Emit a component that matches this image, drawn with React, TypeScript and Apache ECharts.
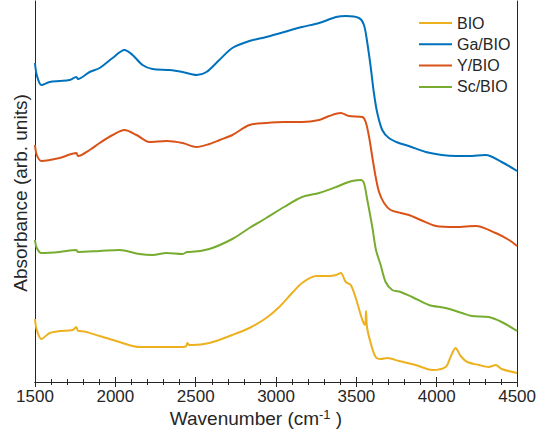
import React, { useEffect, useRef } from "react";
import * as echarts from "echarts";

// FTIR absorbance spectra, offset vertically (arbitrary units)
const seriesNames = ["BIO", "Ga/BIO", "Y/BIO", "Sc/BIO"];
const seriesColors = ["#EDB120", "#0072BD", "#D95319", "#77AC30"];
const xTicks = [1500, 2000, 2500, 3000, 3500, 4000, 4500];

const bioWn = [1500, 1511, 1540, 1591, 1653, 1734, 1757, 1768, 1778, 1902, 2026, 2150, 2318, 2418, 2442, 2448, 2461, 2479, 2585, 2728, 2834, 2939, 3020, 3100, 3162, 3249, 3330, 3374, 3403, 3434, 3465, 3496, 3537, 3554, 3560, 3566, 3589, 3620, 3651, 3692, 3765, 3868, 3972, 4055, 4086, 4117, 4149, 4190, 4262, 4324, 4367, 4404, 4500];
const bioAbs = [0.63, 0.52, 0.43, 0.49, 0.51, 0.52, 0.55, 0.51, 0.51, 0.46, 0.40, 0.35, 0.35, 0.35, 0.36, 0.39, 0.37, 0.37, 0.39, 0.47, 0.54, 0.64, 0.75, 0.89, 0.99, 1.06, 1.06, 1.07, 1.09, 1.00, 0.97, 0.84, 0.62, 0.57, 0.71, 0.55, 0.39, 0.25, 0.23, 0.24, 0.21, 0.17, 0.12, 0.15, 0.25, 0.34, 0.26, 0.20, 0.17, 0.15, 0.17, 0.13, 0.09];

const gaWn = [1500, 1511, 1540, 1591, 1653, 1715, 1757, 1768, 1840, 1902, 1983, 2057, 2107, 2169, 2231, 2337, 2418, 2505, 2567, 2647, 2728, 2834, 2939, 3050, 3162, 3268, 3374, 3436, 3516, 3547, 3568, 3589, 3609, 3630, 3661, 3702, 3764, 3826, 3932, 4032, 4120, 4199, 4305, 4404, 4500];
const gaAbs = [3.19, 3.07, 2.97, 3.00, 3.01, 3.02, 3.05, 3.03, 3.10, 3.14, 3.24, 3.32, 3.27, 3.17, 3.13, 3.12, 3.10, 3.07, 3.10, 3.22, 3.34, 3.41, 3.45, 3.50, 3.55, 3.59, 3.65, 3.66, 3.64, 3.57, 3.39, 3.15, 2.89, 2.69, 2.52, 2.44, 2.39, 2.36, 2.30, 2.27, 2.26, 2.26, 2.27, 2.20, 2.11];

const yWn = [1500, 1511, 1540, 1653, 1757, 1768, 1840, 1902, 1983, 2057, 2132, 2212, 2318, 2418, 2505, 2585, 2650, 2728, 2834, 2939, 3050, 3162, 3268, 3330, 3403, 3454, 3537, 3558, 3579, 3599, 3620, 3641, 3672, 3713, 3775, 3827, 3900, 3995, 4119, 4243, 4367, 4450, 4500];
const yAbs = [2.37, 2.27, 2.21, 2.24, 2.29, 2.26, 2.32, 2.39, 2.47, 2.52, 2.47, 2.40, 2.41, 2.39, 2.35, 2.38, 2.42, 2.47, 2.57, 2.59, 2.60, 2.60, 2.62, 2.66, 2.69, 2.66, 2.65, 2.60, 2.45, 2.25, 2.05, 1.90, 1.79, 1.72, 1.69, 1.67, 1.62, 1.56, 1.55, 1.56, 1.49, 1.42, 1.36];

const scWn = [1500, 1511, 1540, 1653, 1757, 1768, 1902, 2026, 2150, 2231, 2318, 2418, 2448, 2461, 2585, 2728, 2834, 2939, 3050, 3162, 3268, 3374, 3434, 3473, 3527, 3547, 3568, 3599, 3622, 3651, 3682, 3723, 3775, 3847, 3951, 4055, 4158, 4218, 4324, 4404, 4500];
const scAbs = [1.42, 1.34, 1.29, 1.30, 1.32, 1.30, 1.31, 1.32, 1.28, 1.27, 1.29, 1.28, 1.30, 1.30, 1.33, 1.43, 1.54, 1.64, 1.75, 1.85, 1.89, 1.95, 1.99, 2.01, 2.02, 1.99, 1.82, 1.55, 1.32, 1.17, 1.00, 0.92, 0.90, 0.85, 0.77, 0.74, 0.69, 0.66, 0.65, 0.60, 0.51];

const FONT = '"Liberation Sans", Arial, Helvetica, sans-serif';
const INK = "#262626";

const zip = (xs: number[], ys: number[]) => xs.map((x, i) => [x, ys[i]]);

export default function App() {
  const ref = useRef<HTMLDivElement>(null);

  useEffect(() => {
    if (!ref.current) return;
    const chart = echarts.init(ref.current, undefined, { renderer: "svg" });
    const spectra = [zip(bioWn, bioAbs), zip(gaWn, gaAbs), zip(yWn, yAbs), zip(scWn, scAbs)];

    const xAxisBase = {
      type: "value" as const,
      min: xTicks[0],
      max: xTicks[xTicks.length - 1],
      interval: 500,
      axisLine: { show: true, lineStyle: { color: INK, width: 1 } },
      axisTick: { show: true, inside: true, length: 5, lineStyle: { color: INK } },
      minorTick: { show: true, splitNumber: 5, length: 3, lineStyle: { color: INK } },
      splitLine: { show: false },
    };
    const yAxisBase = {
      type: "value" as const,
      min: 0,
      max: 3.81,
      axisLine: { show: true, lineStyle: { color: INK, width: 1 } },
      axisTick: { show: false },
      axisLabel: { show: false },
      splitLine: { show: false },
    };

    chart.setOption({
      animation: false,
      backgroundColor: "#ffffff",
      grid: { left: 35, right: 21, top: 1, bottom: 52, containLabel: false },
      xAxis: [
        {
          ...xAxisBase,
          position: "bottom",
          axisLabel: {
            show: true,
            margin: 6,
            fontSize: 17,
            fontFamily: FONT,
            color: INK,
            formatter: (v: number) => String(v),
          },
        },
        { ...xAxisBase, position: "top", axisLabel: { show: false } },
      ],
      yAxis: [
        { ...yAxisBase, position: "left" },
        { ...yAxisBase, position: "right" },
      ],
      legend: {
        orient: "vertical",
        left: 419,
        top: 15,
        padding: 0,
        itemWidth: 33,
        itemHeight: 2,
        itemGap: 5.3,
        icon: "rect",
        textStyle: { fontSize: 16, fontFamily: FONT, color: INK, lineHeight: 16 },
        data: seriesNames,
      },
      series: spectra.map((d, i) => ({
        name: seriesNames[i],
        type: "line",
        data: d,
        showSymbol: false,
        smooth: 0.3,
        color: seriesColors[i],
        lineStyle: { width: 2, color: seriesColors[i] },
      })),
      graphic: [
        {
          type: "text",
          x: 20,
          y: 193,
          rotation: Math.PI / 2,
          style: {
            text: "Absorbance (arb. units)",
            font: `19px ${FONT}`,
            fill: INK,
            align: "center",
            verticalAlign: "middle",
          },
        },
        {
          type: "text",
          x: 256,
          y: 418,
          style: {
            text: "{n|Wavenumber (cm}{s|-1}{n| )}",
            align: "center",
            verticalAlign: "middle",
            fill: INK,
            rich: {
              n: { fontSize: 19, fontFamily: FONT, fill: INK, lineHeight: 20, verticalAlign: "bottom" },
              s: { fontSize: 13, fontFamily: FONT, fill: INK, lineHeight: 12, verticalAlign: "top" },
            },
          },
        },
      ],
    });

    return () => chart.dispose();
  }, []);

  return (
    <div
      ref={ref}
      style={{ position: "absolute", left: 0, top: 0, width: 539, height: 434 }}
    />
  );
}
